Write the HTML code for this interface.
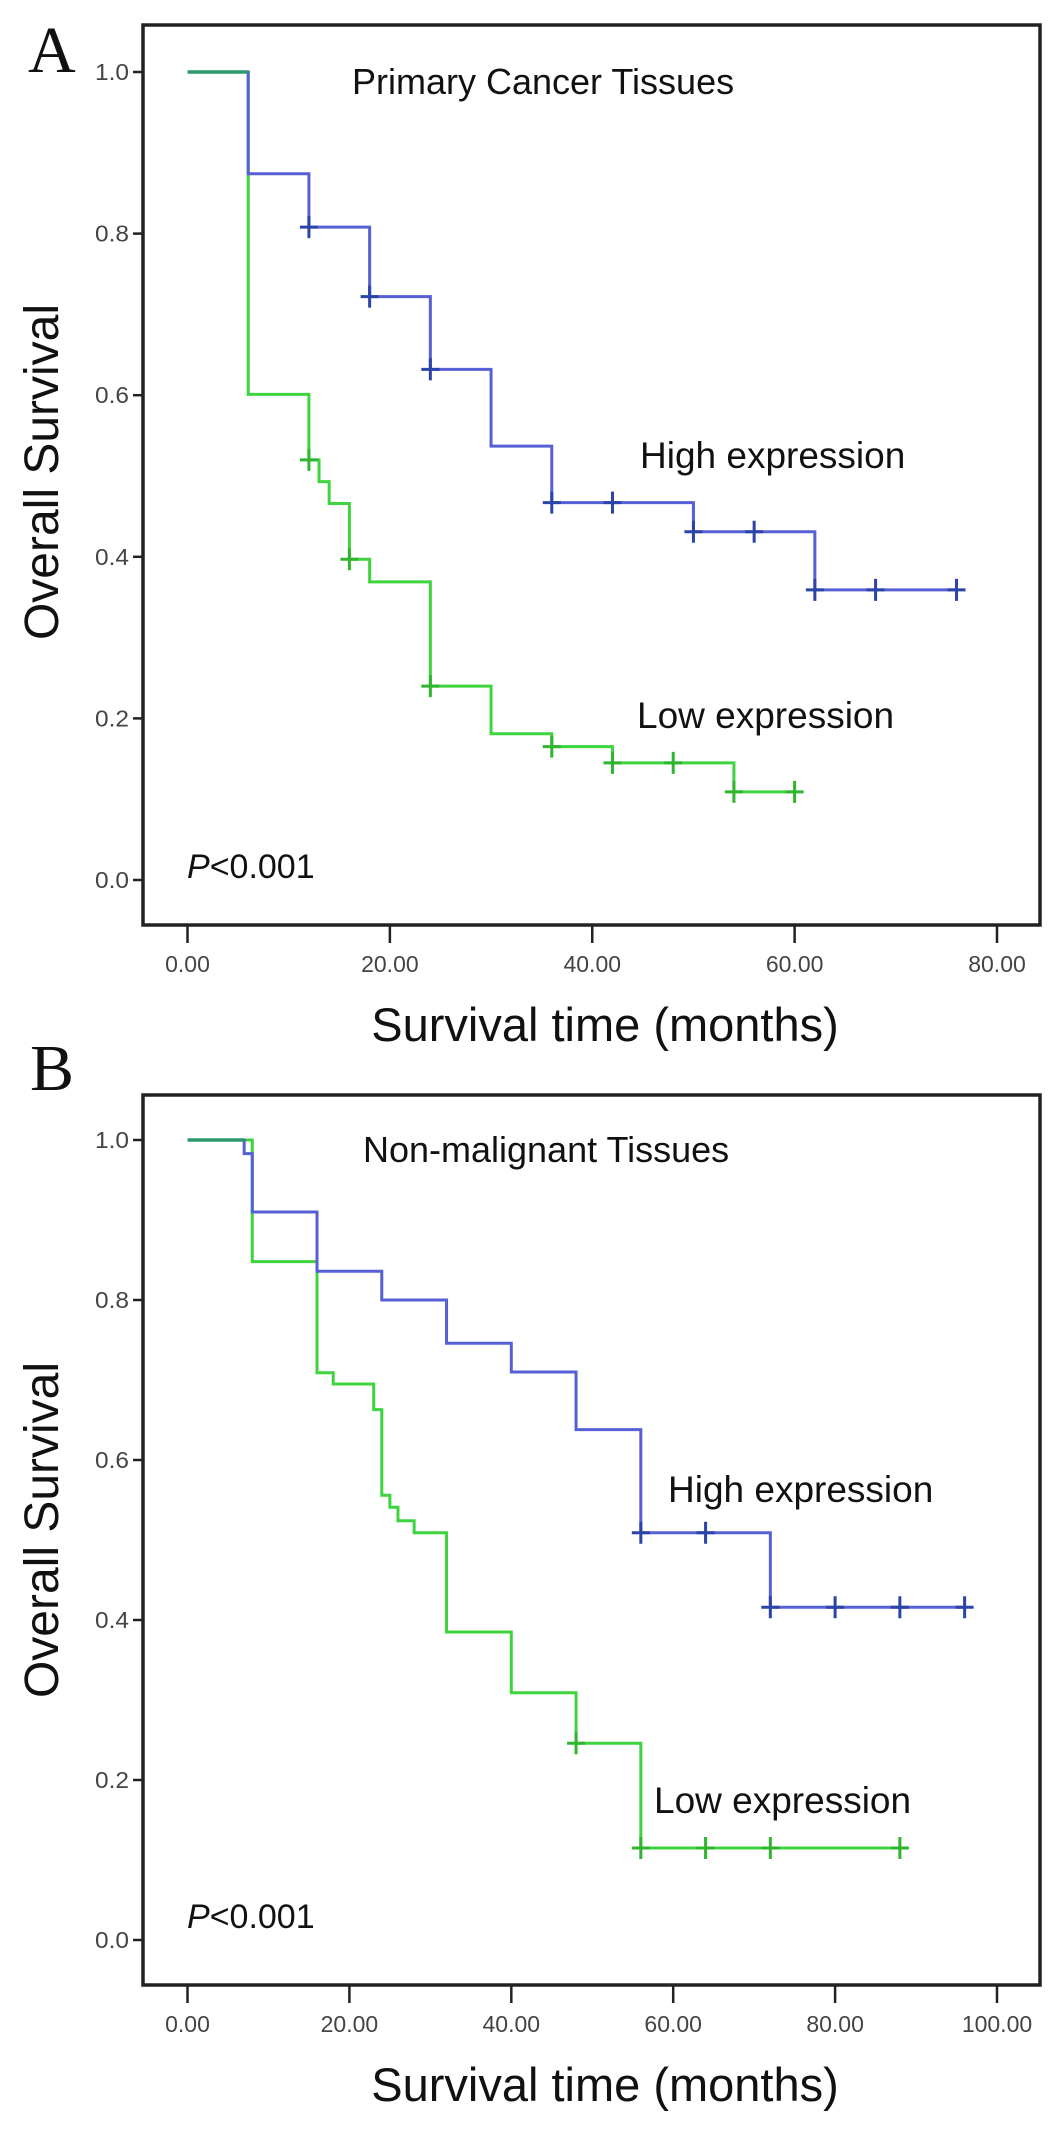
<!DOCTYPE html>
<html><head><meta charset="utf-8"><style>
html,body{margin:0;padding:0;background:#fff;}
svg{display:block;font-family:"Liberation Sans",sans-serif;}
</style></head><body>
<svg id="fig" width="1063" height="2135" viewBox="0 0 1063 2135"></svg>
<script>
// Panel A: Primary Cancer Tissues
const aHighTimes = [0, 6, 12, 18, 24, 30, 36, 50, 62, 76];
const aHighSurv  = [1.0, 0.874, 0.808, 0.722, 0.632, 0.537, 0.467, 0.431, 0.359, 0.359];
const aHighCens  = [12, 18, 24, 36, 42, 50, 56, 62, 68, 76];
const aLowTimes  = [0, 6, 12, 13, 14, 16, 18, 24, 30, 36, 42, 54, 60];
const aLowSurv   = [1.0, 0.601, 0.520, 0.493, 0.466, 0.397, 0.369, 0.240, 0.181, 0.165, 0.145, 0.109, 0.109];
const aLowCens   = [12, 16, 24, 36, 42, 48, 54, 60];
const aXTicks = [0, 20, 40, 60, 80];
const aXLabels = ["0.00", "20.00", "40.00", "60.00", "80.00"];
// Panel B: Non-malignant Tissues
const bHighTimes = [0, 7, 8, 16, 24, 32, 40, 48, 56, 72, 96];
const bHighSurv  = [1.0, 0.983, 0.91, 0.836, 0.80, 0.746, 0.71, 0.638, 0.509, 0.416, 0.416];
const bHighCens  = [56, 64, 72, 80, 88, 96];
const bLowTimes  = [0, 8, 16, 18, 23, 24, 25, 26, 28, 32, 40, 48, 56, 88];
const bLowSurv   = [1.0, 0.848, 0.709, 0.695, 0.663, 0.556, 0.541, 0.524, 0.509, 0.385, 0.309, 0.246, 0.115, 0.115];
const bLowCens   = [48, 56, 64, 72, 88];
const bXTicks = [0, 20, 40, 60, 80, 100];
const bXLabels = ["0.00", "20.00", "40.00", "60.00", "80.00", "100.00"];
const yTicks = [0, 0.2, 0.4, 0.6, 0.8, 1.0];
const yLabels = ["0.0", "0.2", "0.4", "0.6", "0.8", "1.0"];

const NS = "http://www.w3.org/2000/svg";
const svg = document.getElementById("fig");
function mk(tag, attrs, parent, text){
  const e = document.createElementNS(NS, tag);
  for (const k in attrs) e.setAttribute(k, attrs[k]);
  if (text !== undefined) e.textContent = text;
  (parent || svg).appendChild(e);
  return e;
}
function survAt(times, surv, t){
  let s = surv[0];
  for (let i = 0; i < times.length; i++){ if (times[i] <= t) s = surv[i]; }
  return s;
}
function panel(p){
  const g = mk("g", {});
  
  
  const xS = v => p.x0 + (v - p.xMin) * (p.x1 - p.x0) / (p.xMax - p.xMin);
  const yS = v => p.y0 - v * (p.y0 - p.y1);
  // frame
  const fr = mk("rect", {x:p.L, y:p.T, width:p.R-p.L, height:p.B-p.T, fill:"none", stroke:"#222", "stroke-width":3.5}, g);
  
  
  // y ticks
  yTicks.forEach((v,i)=>{
    const t = mk("line", {x1:p.L-10, x2:p.L, y1:yS(v), y2:yS(v), stroke:"#222", "stroke-width":2.5}, g);
    
    
    const l = mk("text", {x:p.L-14, y:yS(v)+8, "text-anchor":"end", "font-size":23, fill:"#444", "textLength":34, "lengthAdjust":"spacingAndGlyphs"}, g, yLabels[i]);
    
    
  });
  // x ticks
  p.xTicks.forEach((v,i)=>{
    const t = mk("line", {x1:xS(v), x2:xS(v), y1:p.B, y2:p.B+18, stroke:"#222", "stroke-width":2.5}, g);
    
    
    const l = mk("text", {x:xS(v), y:p.B+47, "text-anchor":"middle", "font-size":23, fill:"#444"}, g, p.xLabels[i]);
    
    
  });
  // curves
  [[p.low, "#3ed43e", "#2fb52f", "low-expression-curve"], [p.high, "#5660d4", "#2a44a8", "high-expression-curve"]].forEach(([c, col, ccol, nm])=>{
    let d = "";
    for (let i = 0; i < c.times.length; i++){
      const x = xS(c.times[i]), y = yS(c.surv[i]);
      if (i === 0) d += "M" + x + "," + y;
      else d += " H" + x + " V" + y;
    }
    const path = mk("path", {d:d, fill:"none", stroke:col, "stroke-width":3}, g);
    
    
    c.cens.forEach(t=>{
      const x = xS(t), y = yS(survAt(c.times, c.surv, t));
      const m = mk("path", {d:"M"+(x-9)+","+y+" H"+(x+9)+" M"+x+","+(y-11)+" V"+(y+11), stroke:ccol, "stroke-width":3, fill:"none"}, g);
      
      
    });
  });
  // common start segment overlay
  const first = mk("line", {x1:xS(0), x2:xS(p.firstEnd), y1:yS(1), y2:yS(1), stroke:"#2a9a6a", "stroke-width":3.5}, g);
  
  
  // texts
  const t1 = mk("text", {x:p.titleX, y:p.titleY, "font-size":36, fill:"#111"}, g, p.title);
  
  
  const t2 = mk("text", {x:p.hiX, y:p.hiY, "font-size":37, fill:"#111"}, g, "High expression");
  
  
  const t3 = mk("text", {x:p.loX, y:p.loY, "font-size":37, fill:"#111"}, g, "Low expression");
  
  
  const pv = mk("text", {x:187, y:p.pY, "font-size":34, fill:"#111"}, g);
  
  
  mk("tspan", {"font-style":"italic"}, pv, "P");
  mk("tspan", {}, pv, "<0.001");
  const yt = mk("text", {x:0, y:0, "font-size":48, fill:"#111", "text-anchor":"middle", transform:"translate(58,"+p.yTitleY+") rotate(-90)"}, g, "Overall Survival");
  
  
  const xt = mk("text", {x:605, y:p.B+116, "font-size":47, fill:"#111", "text-anchor":"middle"}, g, "Survival time (months)");
  
  
  const pl = mk("text", {x:p.letterX, y:p.letterY, "font-size":66, fill:"#111", "font-family":"Liberation Serif, serif"}, g, p.letter);
  
  
}
panel({id:"a", L:143, T:25, R:1040, B:925, x0:187.5, x1:997, xMin:0, xMax:80, y0:880, y1:72,
  xTicks:aXTicks, xLabels:aXLabels,
  high:{times:aHighTimes, surv:aHighSurv, cens:aHighCens},
  low:{times:aLowTimes, surv:aLowSurv, cens:aLowCens}, firstEnd:6,
  title:"Primary Cancer Tissues", titleX:352, titleY:94, hiX:640, hiY:468, loX:637, loY:728, pY:878,
  yTitleY:472, letter:"A", letterX:28, letterY:72});
panel({id:"b", L:143, T:1095, R:1040, B:1985, x0:187.5, x1:997, xMin:0, xMax:100, y0:1940, y1:1140,
  xTicks:bXTicks, xLabels:bXLabels,
  high:{times:bHighTimes, surv:bHighSurv, cens:bHighCens},
  low:{times:bLowTimes, surv:bLowSurv, cens:bLowCens}, firstEnd:7,
  title:"Non-malignant Tissues", titleX:363, titleY:1162, hiX:668, hiY:1502, loX:654, loY:1813, pY:1928,
  yTitleY:1530, letter:"B", letterX:30, letterY:1090});
</script>
</body></html>
